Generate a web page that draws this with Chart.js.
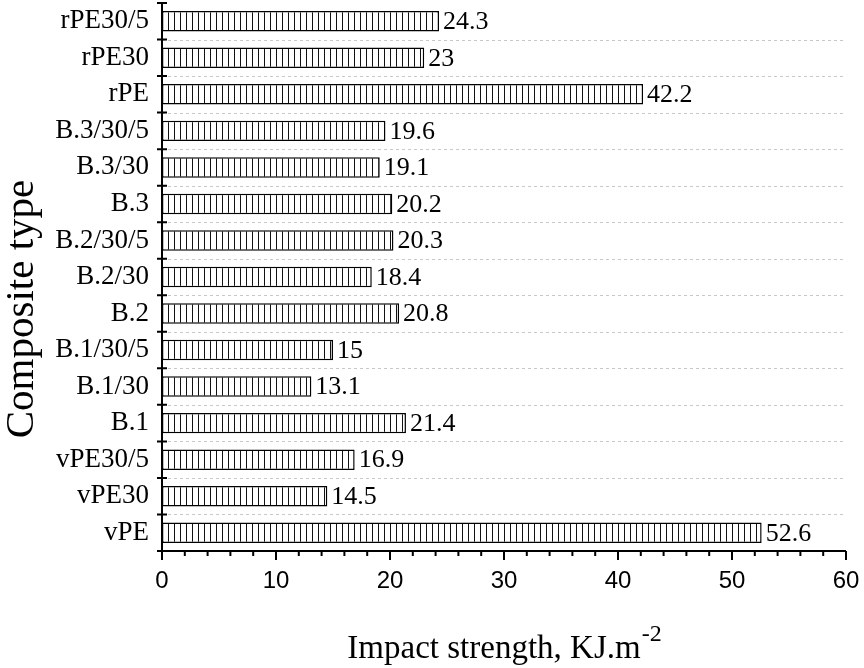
<!DOCTYPE html>
<html>
<head>
<meta charset="utf-8">
<script src="https://cdn.jsdelivr.net/npm/chart.js@4/dist/chart.umd.min.js"></script>
<style>
  html, body { margin: 0; padding: 0; background: #fff; }
  #wrap { width: 864px; height: 668px; }
</style>
</head>
<body>
<div id="wrap"><canvas id="chart" width="864" height="668"></canvas></div>
<script>
// data, bottom to top as in the picture
const categories = ['vPE', 'vPE30', 'vPE30/5', 'B.1', 'B.1/30', 'B.1/30/5', 'B.2', 'B.2/30',
  'B.2/30/5', 'B.3', 'B.3/30', 'B.3/30/5', 'rPE', 'rPE30', 'rPE30/5'];
const impactValues = [52.6, 14.5, 16.9, 21.4, 13.1, 15, 20.8, 18.4, 20.3, 20.2, 19.1, 19.6, 42.2, 23, 24.3];
const xTicks = [0, 10, 20, 30, 40, 50, 60];

const serif = '"Liberation Serif", "Times New Roman", serif';
const sans = '"Liberation Sans", Arial, sans-serif';

// vertical hatch fill
function hatchPattern() {
  const c = document.createElement('canvas');
  c.width = 6; c.height = 4;
  const g = c.getContext('2d');
  g.fillStyle = '#fff';
  g.fillRect(0, 0, 6, 4);
  g.fillStyle = '#111';
  g.fillRect(0, 0, 1, 4);
  return g.createPattern(c, 'repeat');
}

const axesPlugin = {
  id: 'axesPlugin',
  beforeDatasetsDraw(chart) {
    const { ctx, chartArea: a, scales: { y } } = chart;
    const half = Math.abs(y.getPixelForValue(1) - y.getPixelForValue(0)) / 2;
    ctx.save();
    ctx.strokeStyle = '#c8c8c8';
    ctx.lineWidth = 1;
    ctx.setLineDash([3, 3]);
    for (let i = 0; i < categories.length - 1; i++) {
      const py = Math.round(y.getPixelForValue(i) - half) + 0.5;
      ctx.beginPath();
      ctx.moveTo(a.left, py);
      ctx.lineTo(a.right, py);
      ctx.stroke();
    }
    ctx.restore();
  },
  afterDraw(chart) {
    const { ctx, chartArea: a, scales: { x, y } } = chart;
    const half = Math.abs(y.getPixelForValue(1) - y.getPixelForValue(0)) / 2;
    ctx.save();
    ctx.strokeStyle = '#000';
    ctx.lineWidth = 2;
    // axis lines
    ctx.beginPath();
    ctx.moveTo(a.left, a.top);
    ctx.lineTo(a.left, a.bottom + 9);
    ctx.moveTo(a.left - 5, a.bottom);
    ctx.lineTo(a.right, a.bottom);
    ctx.stroke();
    // y ticks at category boundaries
    ctx.beginPath();
    for (let i = 0; i < categories.length; i++) {
      const py = y.getPixelForValue(i) - half;
      ctx.moveTo(a.left - 5, py);
      ctx.lineTo(a.left + 5, py);
    }
    ctx.stroke();
    // x ticks, major and minor
    ctx.beginPath();
    for (let v = x.min; v <= x.max; v += 2) {
      const px = x.getPixelForValue(v);
      ctx.moveTo(px, a.bottom);
      ctx.lineTo(px, a.bottom + (v % 10 === 0 ? 9 : 5));
    }
    ctx.stroke();

    // value labels
    ctx.fillStyle = '#000';
    ctx.font = '26px ' + serif;
    ctx.textBaseline = 'middle';
    ctx.textAlign = 'left';
    chart.getDatasetMeta(0).data.forEach((bar, i) => {
      ctx.fillText(String(impactValues[i]), bar.x + 4, bar.y + 1);
    });

    // y title
    ctx.save();
    ctx.translate(33, (a.top + a.bottom) / 2 + 32);
    ctx.rotate(-Math.PI / 2);
    ctx.font = '41px ' + serif;
    ctx.textAlign = 'center';
    ctx.textBaseline = 'alphabetic';
    ctx.fillText('Composite type', 0, 0);
    ctx.restore();

    // x title with superscript
    ctx.font = '33px ' + serif;
    ctx.textAlign = 'left';
    ctx.textBaseline = 'alphabetic';
    const main = 'Impact strength, KJ.m';
    const w = ctx.measureText(main).width;
    ctx.font = '24px ' + serif;
    const ws = ctx.measureText('-2').width;
    const x0 = (a.left + a.right) / 2 - (w + ws) / 2;
    ctx.font = '33px ' + serif;
    ctx.fillText(main, x0, 658);
    ctx.font = '24px ' + serif;
    ctx.fillText('-2', x0 + w + 1, 641);
    ctx.restore();
  }
};

new Chart(document.getElementById('chart'), {
  type: 'bar',
  data: {
    labels: categories,
    datasets: [{
      data: impactValues,
      backgroundColor: hatchPattern(),
      borderColor: '#000',
      borderWidth: 1.5,
      borderSkipped: false,
      barPercentage: 0.56,
      categoryPercentage: 1
    }]
  },
  options: {
    indexAxis: 'y',
    responsive: false,
    animation: false,
    layout: { padding: { top: 3, right: 18, left: 0, bottom: 0 } },
    plugins: { legend: { display: false }, tooltip: { enabled: false } },
    scales: {
      x: {
        min: 0, max: 60,
        afterBuildTicks: s => { s.ticks = xTicks.map(v => ({ value: v })); },
        afterFit: s => { s.height = 117; s.paddingLeft = 0; s.paddingRight = 0; },
        grid: { display: false, drawTicks: false },
        border: { display: false },
        ticks: { color: '#000', font: { family: sans, size: 24 }, padding: 16, maxRotation: 0 }
      },
      y: {
        reverse: true,
        afterFit: s => { s.width = 162; s.paddingTop = 0; s.paddingBottom = 0; },
        grid: { display: false, drawTicks: false },
        border: { display: false },
        ticks: { color: '#000', font: { family: serif, size: 27 }, padding: 13, autoSkip: false }
      }
    }
  },
  plugins: [axesPlugin]
});
</script>
</body>
</html>
